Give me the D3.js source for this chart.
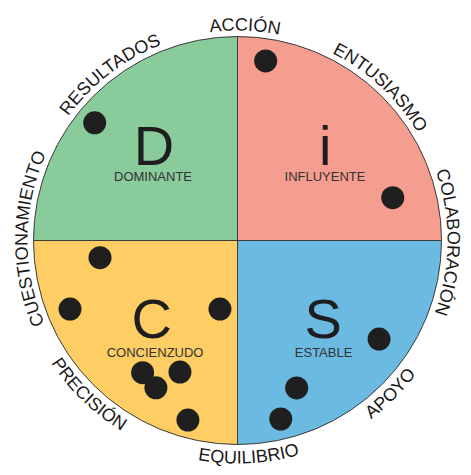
<!DOCTYPE html>
<html>
<head>
<meta charset="utf-8">
<script src="https://cdn.jsdelivr.net/npm/d3@7"></script>
<style>
    html, body { margin: 0; padding: 0; background: #fff; }
    svg { display: block; }
    text { font-family: "Liberation Sans", Arial, Helvetica, sans-serif; }
</style>
</head>
<body>
<div id="chart"></div>
<script>
// cuadrantes DISC
var quadLetters = ['D', 'i', 'S', 'C'];
var quadNames = ['DOMINANTE', 'INFLUYENTE', 'ESTABLE', 'CONCIENZUDO'];
var quadColors = ['#89cb9a', '#f59d8e', '#6bbae2', '#fecd64'];
var quadStart = [-90, 0, 90, 180];
var quadLetterX = [-41, 43, 42, -42];
var quadLetterY = [37, 37, -47.8, -47.8];
var quadNameX = [-41.4, 42.9, 42.2, -40.4];
var quadNameY = [29.4, 29.4, -57.1, -57.1];

// etiquetas alrededor del círculo (ángulo en grados desde arriba, sentido horario)
var ringLabels = ['ACCIÓN', 'ENTUSIASMO', 'COLABORACIÓN', 'APOYO', 'EQUILIBRIO', 'PRECISIÓN', 'CUESTIONAMIENTO', 'RESULTADOS'];
var ringAngles = [2, 43, 90.5, 135, 177, 224, 270.5, -37.5];

// puntos (coordenadas -100..100)
var dotX = [13.8, -70.0, 76.1, -67.4, -82.1, -8.6, 69.4, -46.5, -28.2, -40.0, 29.0, -24.3, 21.2];
var dotY = [88.0, 57.7, 21.0, -8.4, -33.6, -33.6, -48.3, -64.8, -64.5, -72.2, -72.3, -88.0, -87.5];

var width = 471;
var height = 475;
var cx = 237.5;
var cy = 240.5;
var radius = 204;

var svg = d3.select('#chart')
    .append('svg')
    .attr('width', width)
    .attr('height', height);

var xScale = d3.scaleLinear().domain([-100, 100]).range([cx - radius, cx + radius]);
var yScale = d3.scaleLinear().domain([-100, 100]).range([cy + radius, cy - radius]);

var g = svg.append('g');

// sectores
var arc = d3.arc().innerRadius(0).outerRadius(radius);
g.selectAll('path.quad')
    .data(quadStart)
    .enter()
    .append('path')
    .attr('class', 'quad')
    .attr('transform', 'translate(' + cx + ',' + cy + ')')
    .attr('d', function (d) {
        return arc({ startAngle: d * Math.PI / 180, endAngle: (d + 90) * Math.PI / 180 });
    })
    .attr('fill', function (d, i) { return quadColors[i]; });

// líneas
g.append('line')
    .attr('x1', xScale(0)).attr('x2', xScale(0))
    .attr('y1', yScale(100)).attr('y2', yScale(-100))
    .attr('stroke', '#3a3a3a').attr('stroke-width', 1);
g.append('line')
    .attr('x1', xScale(-100)).attr('x2', xScale(100))
    .attr('y1', yScale(0)).attr('y2', yScale(0))
    .attr('stroke', '#3a3a3a').attr('stroke-width', 1);
g.append('circle')
    .attr('cx', cx).attr('cy', cy).attr('r', radius)
    .attr('fill', 'none')
    .attr('stroke', '#3a3a3a').attr('stroke-width', 1);

// letras grandes
g.selectAll('text.letter')
    .data(quadLetters)
    .enter()
    .append('text')
    .attr('class', 'letter')
    .attr('x', function (d, i) { return xScale(quadLetterX[i]); })
    .attr('y', function (d, i) { return yScale(quadLetterY[i]); })
    .attr('text-anchor', 'middle')
    .attr('font-size', 56)
    .attr('fill', '#1e1e1e')
    .text(function (d) { return d; });

g.selectAll('text.qname')
    .data(quadNames)
    .enter()
    .append('text')
    .attr('class', 'qname')
    .attr('x', function (d, i) { return xScale(quadNameX[i]); })
    .attr('y', function (d, i) { return yScale(quadNameY[i]); })
    .attr('text-anchor', 'middle')
    .attr('font-size', 13)
    .attr('fill', '#333')
    .text(function (d) { return d; });

// puntos
g.selectAll('circle.dot')
    .data(dotX)
    .enter()
    .append('circle')
    .attr('class', 'dot')
    .attr('cx', function (d) { return xScale(d); })
    .attr('cy', function (d, i) { return yScale(dotY[i]); })
    .attr('r', 11.5)
    .attr('fill', '#1f1f1f');

// etiquetas curvas
var defs = svg.append('defs');
function labelPath(angle) {
    var rad = Math.PI / 180;
    var p = d3.path();
    var bottom = Math.cos(angle * rad) < -0.3;
    if (!bottom) {
        var r = 210;
        var a0 = (angle - 90 - 90) * rad;
        var a1 = (angle + 90 - 90) * rad;
        p.moveTo(cx + r * Math.cos(a0), cy + r * Math.sin(a0));
        p.arc(cx, cy, r, a0, a1, false);
    }
    else {
        var r2 = 223;
        var b0 = (angle + 90 - 90) * rad;
        var b1 = (angle - 90 - 90) * rad;
        p.moveTo(cx + r2 * Math.cos(b0), cy + r2 * Math.sin(b0));
        p.arc(cx, cy, r2, b0, b1, true);
    }
    return p.toString();
}

ringLabels.forEach(function (name, i) {
    defs.append('path')
        .attr('id', 'lp' + i)
        .attr('d', labelPath(ringAngles[i]));
    svg.append('text')
        .attr('font-size', 18)
        .attr('fill', '#1a1a1a')
        .append('textPath')
        .attr('href', '#lp' + i)
        .attr('startOffset', '50%')
        .attr('text-anchor', 'middle')
        .text(name);
});
</script>
</body>
</html>
